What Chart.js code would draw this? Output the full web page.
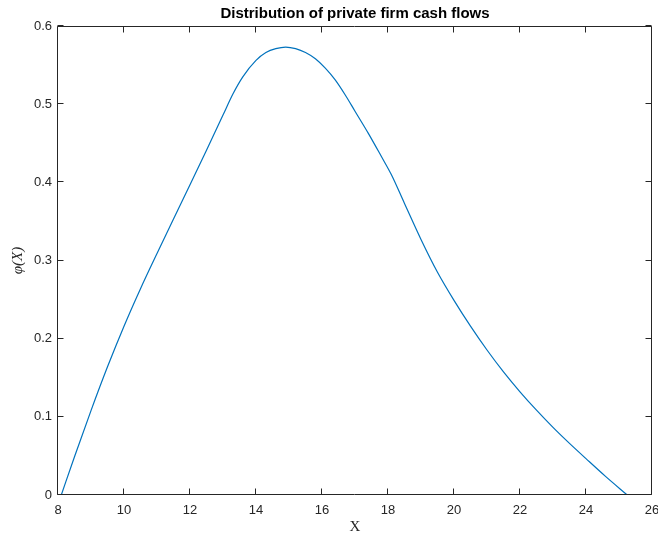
<!DOCTYPE html>
<html>
<head>
<meta charset="utf-8">
<title>Distribution of private firm cash flows</title>
<script src="https://cdn.jsdelivr.net/npm/chart.js@4.4.1/dist/chart.umd.min.js"></script>
<style>
  html, body { margin: 0; padding: 0; background: #fff; }
  #wrap { width: 658px; height: 539px; }
</style>
</head>
<body>
<div id="wrap"><canvas id="phiChart" width="658" height="539"></canvas></div>
<script>
// valori
const xValues = [8.1, 8.5, 9, 9.5, 10, 10.5, 11, 11.5, 12, 12.5, 13, 13.3, 13.6, 14, 14.3, 14.6, 14.9, 15.2, 15.5, 15.8, 16.1, 16.4, 16.7, 17, 17.4, 17.8, 18.1, 18.5, 19, 19.5, 20, 20.5, 21, 21.5, 22, 22.5, 23, 23.5, 24, 24.6, 25.25];
const phiValues = [0, 0.049, 0.108, 0.164, 0.216, 0.264, 0.309, 0.353, 0.397, 0.441, 0.486, 0.513, 0.535, 0.556, 0.566, 0.571, 0.573, 0.571, 0.566, 0.558, 0.546, 0.531, 0.512, 0.491, 0.463, 0.433, 0.410, 0.373, 0.327, 0.285, 0.249, 0.216, 0.1855, 0.1575, 0.132, 0.1085, 0.0865, 0.066, 0.0465, 0.0235, 0];
const xTicks = [8, 10, 12, 14, 16, 18, 20, 22, 24, 26];
const yTicks = [0, 0.1, 0.2, 0.3, 0.4, 0.5, 0.6];

const chartTitle = 'Distribution of private firm cash flows';
const axisColor = '#262626';
const lineColor = '#0072bd';

// cutia in stil MATLAB, cu tick-uri spre interior
const boxPlugin = {
    id: 'matlabBox',
    afterDatasetsDraw(chart) {
        const { ctx, chartArea: a, scales } = chart;
        const tick = 6;
        const L = Math.round(a.left) - 0.5, R = Math.round(a.right) - 0.5;
        const T = Math.round(a.top) + 0.5, B = Math.round(a.bottom) - 0.5;
        ctx.save();
        ctx.strokeStyle = axisColor;
        ctx.lineWidth = 1;
        ctx.beginPath();
        ctx.rect(L, T, R - L, B - T);
        xTicks.forEach(v => {
            const px = Math.round(scales.x.getPixelForValue(v)) - 0.5;
            ctx.moveTo(px, B); ctx.lineTo(px, B - tick);
            ctx.moveTo(px, T); ctx.lineTo(px, T + tick);
        });
        yTicks.forEach(v => {
            const py = Math.round(scales.y.getPixelForValue(v)) - 0.5;
            ctx.moveTo(L, py); ctx.lineTo(L + tick, py);
            ctx.moveTo(R, py); ctx.lineTo(R - tick, py);
        });
        ctx.stroke();

        // titlul, centrat peste zona graficului
        ctx.fillStyle = '#000';
        ctx.font = 'bold 15px "Liberation Sans", Arial, sans-serif';
        ctx.textAlign = 'center';
        ctx.textBaseline = 'middle';
        ctx.fillText(chartTitle, (a.left + a.right) / 2, 14);
        ctx.restore();
    }
};

new Chart(document.getElementById('phiChart'), {
    type: 'line',
    data: {
        datasets: [{
            data: xValues.map((x, i) => ({ x: x, y: phiValues[i] })),
            borderColor: lineColor,
            borderWidth: 1.2,
            pointRadius: 0,
            fill: false,
            cubicInterpolationMode: 'monotone'
        }]
    },
    options: {
        responsive: false,
        animation: false,
        layout: { padding: { top: 26, right: 6, left: 0, bottom: 0 } },
        plugins: {
            legend: { display: false },
            tooltip: { enabled: false },
            title: { display: false }
        },
        scales: {
            x: {
                type: 'linear',
                min: 8, max: 26,
                grid: { display: false, drawTicks: false },
                border: { display: false },
                afterBuildTicks: s => { s.ticks = xTicks.map(v => ({ value: v })); },
                afterFit: s => { s.height = 44; s.paddingLeft = 0; s.paddingRight = 0; },
                ticks: {
                    color: axisColor,
                    padding: 8,
                    maxRotation: 0,
                    font: { family: '"Liberation Sans", Arial, sans-serif', size: 13 }
                },
                title: {
                    display: true,
                    text: 'X',
                    color: axisColor,
                    padding: { top: 0, bottom: 3 },
                    font: { family: '"Liberation Serif", "Times New Roman", serif', size: 15 }
                }
            },
            y: {
                type: 'linear',
                min: 0, max: 0.6,
                grid: { display: false, drawTicks: false },
                border: { display: false },
                afterBuildTicks: s => { s.ticks = yTicks.map(v => ({ value: v })); },
                afterFit: s => { s.width = 58; },
                ticks: {
                    color: axisColor,
                    padding: 6,
                    callback: v => v === 0 ? '0' : v.toFixed(1),
                    font: { family: '"Liberation Sans", Arial, sans-serif', size: 13 }
                },
                title: {
                    display: true,
                    text: 'φ(X)',
                    color: axisColor,
                    padding: { top: 9, bottom: 0 },
                    font: { family: '"Liberation Serif", "Times New Roman", serif', size: 15, style: 'italic' }
                }
            }
        }
    },
    plugins: [boxPlugin]
});
</script>
</body>
</html>
